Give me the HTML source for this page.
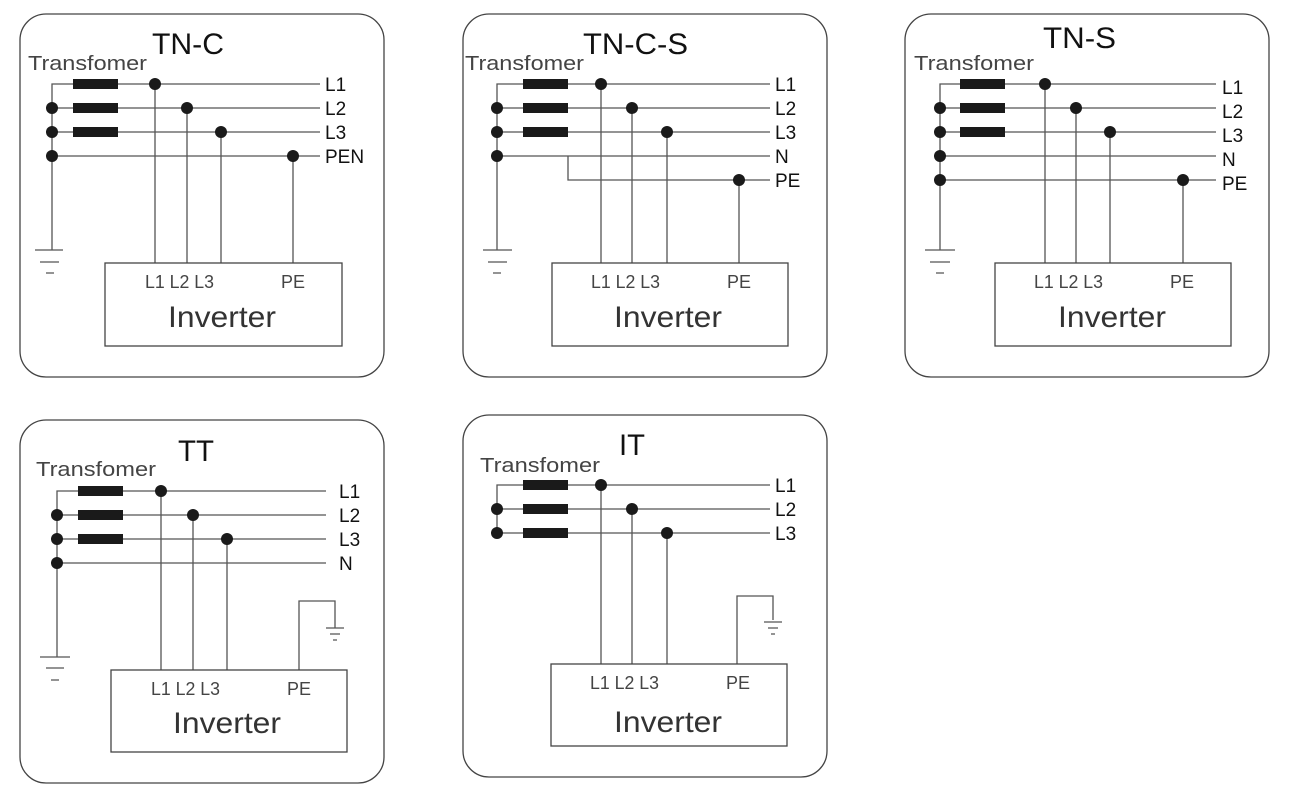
<!DOCTYPE html>
<html><head><meta charset="utf-8"><style>
html,body{margin:0;padding:0;background:#fff;}
svg{display:block;}
text{font-family:"Liberation Sans",sans-serif;}
.w{stroke:#555;stroke-width:1.3;fill:none;}
.b{stroke:#444;stroke-width:1.3;fill:none;}
.c{fill:#1a1a1a;}
.t{font-size:30px;fill:#111;}
.tr{font-size:20px;fill:#444;}
.lb{font-size:19px;fill:#111;}
.il{font-size:18px;fill:#444;}
.iv{font-size:30px;fill:#333;}
</style></head><body>
<svg width="1299" height="799" viewBox="0 0 1299 799" xmlns="http://www.w3.org/2000/svg">
<!-- TN-C -->
<rect x="20" y="14" width="364" height="363" rx="26" class="b"/>
<text x="152" y="54" class="t" textLength="72" lengthAdjust="spacingAndGlyphs">TN-C</text>
<text x="28" y="70" class="tr" textLength="119" lengthAdjust="spacingAndGlyphs">Transfomer</text>
<path class="w" d="M52 250V84H320M52 108H320M52 132H320M52 156H320M155 84V263M187 108V263M221 132V263M293 156V263M35 250H63M40 262H59M46 273H54"/>
<rect x="73" y="79" width="45" height="10" class="c"/><rect x="73" y="103" width="45" height="10" class="c"/><rect x="73" y="127" width="45" height="10" class="c"/>
<g class="c"><circle cx="155" cy="84" r="6"/><circle cx="187" cy="108" r="6"/><circle cx="221" cy="132" r="6"/><circle cx="293" cy="156" r="6"/><circle cx="52" cy="108" r="6"/><circle cx="52" cy="132" r="6"/><circle cx="52" cy="156" r="6"/></g>
<text x="325" y="91" class="lb">L1</text><text x="325" y="115" class="lb">L2</text><text x="325" y="139" class="lb">L3</text><text x="325" y="163" class="lb">PEN</text>
<rect x="105" y="263" width="237" height="83" class="b"/>
<text x="145" y="288" class="il" textLength="69" lengthAdjust="spacingAndGlyphs">L1 L2 L3</text><text x="281" y="288" class="il">PE</text>
<text x="168" y="327" class="iv" textLength="108" lengthAdjust="spacingAndGlyphs">Inverter</text>

<!-- TN-C-S -->
<rect x="463" y="14" width="364" height="363" rx="26" class="b"/>
<text x="583" y="54" class="t" textLength="105" lengthAdjust="spacingAndGlyphs">TN-C-S</text>
<text x="465" y="70" class="tr" textLength="119" lengthAdjust="spacingAndGlyphs">Transfomer</text>
<path class="w" d="M497 250V84H770M497 108H770M497 132H770M497 156H770M568 156V180H770M601 84V263M632 108V263M667 132V263M739 180V263M483 250H512M488 262H507M493 273H501"/>
<rect x="523" y="79" width="45" height="10" class="c"/><rect x="523" y="103" width="45" height="10" class="c"/><rect x="523" y="127" width="45" height="10" class="c"/>
<g class="c"><circle cx="601" cy="84" r="6"/><circle cx="632" cy="108" r="6"/><circle cx="667" cy="132" r="6"/><circle cx="739" cy="180" r="6"/><circle cx="497" cy="108" r="6"/><circle cx="497" cy="132" r="6"/><circle cx="497" cy="156" r="6"/></g>
<text x="775" y="91" class="lb">L1</text><text x="775" y="115" class="lb">L2</text><text x="775" y="139" class="lb">L3</text><text x="775" y="163" class="lb">N</text><text x="775" y="187" class="lb">PE</text>
<rect x="552" y="263" width="236" height="83" class="b"/>
<text x="591" y="288" class="il" textLength="69" lengthAdjust="spacingAndGlyphs">L1 L2 L3</text><text x="727" y="288" class="il">PE</text>
<text x="614" y="327" class="iv" textLength="108" lengthAdjust="spacingAndGlyphs">Inverter</text>

<!-- TN-S -->
<rect x="905" y="14" width="364" height="363" rx="26" class="b"/>
<text x="1043" y="48" class="t" textLength="73" lengthAdjust="spacingAndGlyphs">TN-S</text>
<text x="914" y="70" class="tr" textLength="120" lengthAdjust="spacingAndGlyphs">Transfomer</text>
<path class="w" d="M940 250V84H1216M940 108H1216M940 132H1216M940 156H1216M940 180H1216M1045 84V263M1076 108V263M1110 132V263M1183 180V263M925 250H955M930 262H950M936 273H944"/>
<rect x="960" y="79" width="45" height="10" class="c"/><rect x="960" y="103" width="45" height="10" class="c"/><rect x="960" y="127" width="45" height="10" class="c"/>
<g class="c"><circle cx="1045" cy="84" r="6"/><circle cx="1076" cy="108" r="6"/><circle cx="1110" cy="132" r="6"/><circle cx="1183" cy="180" r="6"/><circle cx="940" cy="108" r="6"/><circle cx="940" cy="132" r="6"/><circle cx="940" cy="156" r="6"/><circle cx="940" cy="180" r="6"/></g>
<text x="1222" y="94" class="lb">L1</text><text x="1222" y="118" class="lb">L2</text><text x="1222" y="142" class="lb">L3</text><text x="1222" y="166" class="lb">N</text><text x="1222" y="190" class="lb">PE</text>
<rect x="995" y="263" width="236" height="83" class="b"/>
<text x="1034" y="288" class="il" textLength="69" lengthAdjust="spacingAndGlyphs">L1 L2 L3</text><text x="1170" y="288" class="il">PE</text>
<text x="1058" y="327" class="iv" textLength="108" lengthAdjust="spacingAndGlyphs">Inverter</text>

<!-- TT -->
<rect x="20" y="420" width="364" height="363" rx="26" class="b"/>
<text x="178" y="461" class="t" textLength="36" lengthAdjust="spacingAndGlyphs">TT</text>
<text x="36" y="476" class="tr" textLength="120" lengthAdjust="spacingAndGlyphs">Transfomer</text>
<path class="w" d="M57 657V491H326M57 515H326M57 539H326M57 563H326M161 491V670M193 515V670M227 539V670M299 670V601H335V628M326 628H344M330 634H340M333 640H337M40 657H70M46 668H64M51 680H59"/>
<rect x="78" y="486" width="45" height="10" class="c"/><rect x="78" y="510" width="45" height="10" class="c"/><rect x="78" y="534" width="45" height="10" class="c"/>
<g class="c"><circle cx="161" cy="491" r="6"/><circle cx="193" cy="515" r="6"/><circle cx="227" cy="539" r="6"/><circle cx="57" cy="515" r="6"/><circle cx="57" cy="539" r="6"/><circle cx="57" cy="563" r="6"/></g>
<text x="339" y="498" class="lb">L1</text><text x="339" y="522" class="lb">L2</text><text x="339" y="546" class="lb">L3</text><text x="339" y="570" class="lb">N</text>
<rect x="111" y="670" width="236" height="82" class="b"/>
<text x="151" y="695" class="il" textLength="69" lengthAdjust="spacingAndGlyphs">L1 L2 L3</text><text x="287" y="695" class="il">PE</text>
<text x="173" y="733" class="iv" textLength="108" lengthAdjust="spacingAndGlyphs">Inverter</text>

<!-- IT -->
<rect x="463" y="415" width="364" height="362" rx="26" class="b"/>
<text x="619" y="455" class="t" textLength="26" lengthAdjust="spacingAndGlyphs">IT</text>
<text x="480" y="472" class="tr" textLength="120" lengthAdjust="spacingAndGlyphs">Transfomer</text>
<path class="w" d="M497 533V485H770M497 509H770M497 533H770M601 485V664M632 509V664M667 533V664M737 664V596H773V620M764 622H782M768 628H778M771 634H775"/>
<rect x="523" y="480" width="45" height="10" class="c"/><rect x="523" y="504" width="45" height="10" class="c"/><rect x="523" y="528" width="45" height="10" class="c"/>
<g class="c"><circle cx="601" cy="485" r="6"/><circle cx="632" cy="509" r="6"/><circle cx="667" cy="533" r="6"/><circle cx="497" cy="509" r="6"/><circle cx="497" cy="533" r="6"/></g>
<text x="775" y="492" class="lb">L1</text><text x="775" y="516" class="lb">L2</text><text x="775" y="540" class="lb">L3</text>
<rect x="551" y="664" width="236" height="82" class="b"/>
<text x="590" y="689" class="il" textLength="69" lengthAdjust="spacingAndGlyphs">L1 L2 L3</text><text x="726" y="689" class="il">PE</text>
<text x="614" y="732" class="iv" textLength="108" lengthAdjust="spacingAndGlyphs">Inverter</text>
</svg>
</body></html>
